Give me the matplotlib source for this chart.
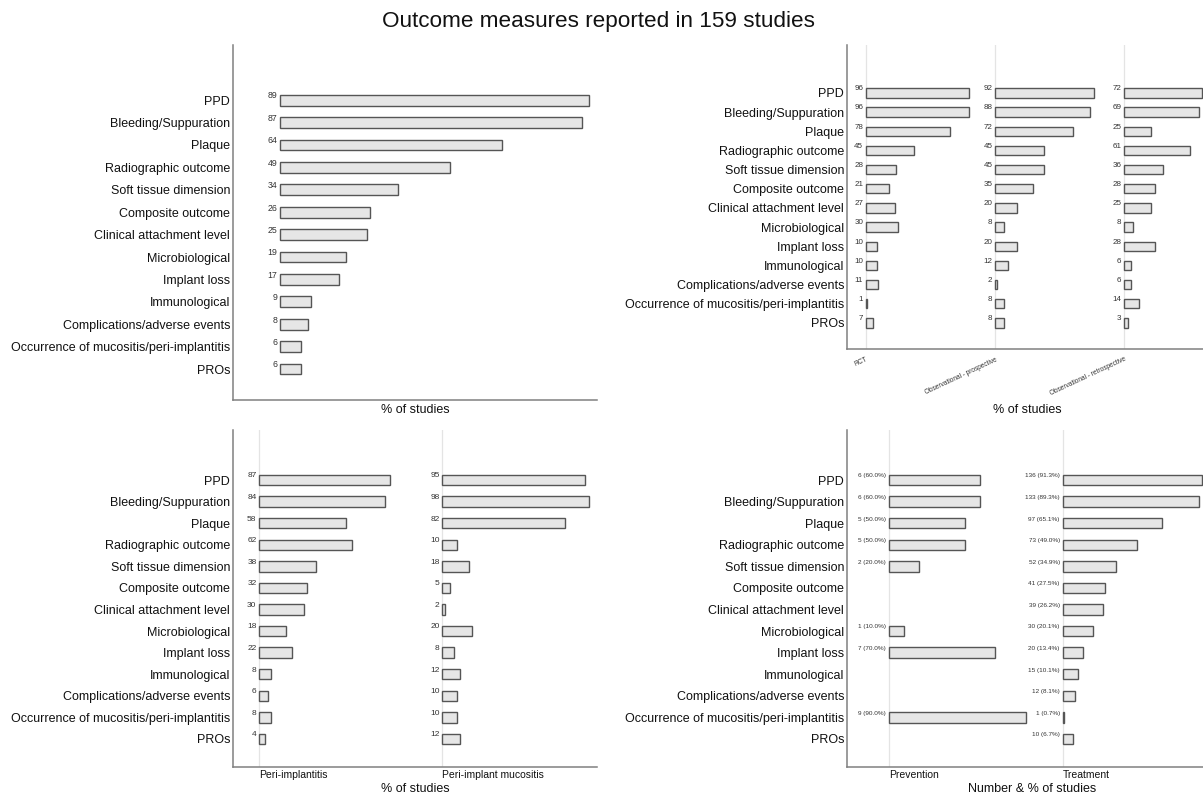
import matplotlib
matplotlib.use("Agg")
import matplotlib.pyplot as plt
import numpy as np

plt.rcParams['font.family'] = ['Liberation Sans', 'DejaVu Sans']

categories = ["PPD", "Bleeding/Suppuration", "Plaque", "Radiographic outcome",
              "Soft tissue dimension", "Composite outcome", "Clinical attachment level",
              "Microbiological", "Implant loss", "Immunological",
              "Complications/adverse events", "Occurrence of mucositis/peri-implantitis", "PROs"]

overall = [89, 87, 64, 49, 34, 26, 25, 19, 17, 9, 8, 6, 6]

design_groups = ["RCT", "Observational - prospective", "Observational - retrospective"]
rct = [96, 96, 78, 45, 28, 21, 27, 30, 10, 10, 11, 1, 7]
obs_prospective = [92, 88, 72, 45, 45, 35, 20, 8, 20, 12, 2, 8, 8]
obs_retrospective = [72, 69, 25, 61, 36, 28, 25, 8, 28, 6, 6, 14, 3]

disease_groups = ["Peri-implantitis", "Peri-implant mucositis"]
peri_implantitis = [87, 84, 58, 62, 38, 32, 30, 18, 22, 8, 6, 8, 4]
mucositis = [95, 98, 82, 10, 18, 5, 2, 20, 8, 12, 10, 10, 12]

aim_groups = ["Prevention", "Treatment"]
prevention_n = [6, 6, 5, 5, 2, None, None, 1, 7, None, None, 9, None]
prevention_pct = [60.0, 60.0, 50.0, 50.0, 20.0, None, None, 10.0, 70.0, None, None, 90.0, None]
treatment_n = [136, 133, 97, 73, 52, 41, 39, 30, 20, 15, 12, 1, 10]
treatment_pct = [91.3, 89.3, 65.1, 49.0, 34.9, 27.5, 26.2, 20.1, 13.4, 10.1, 8.1, 0.7, 6.7]

W, H = 1203, 796
fig = plt.figure(figsize=(W / 100, H / 100), dpi=100)


def make_ax(l, t, r, b):
    return fig.add_axes([l / W, 1 - b / H, (r - l) / W, (b - t) / H])


FACE = '#e6e6e6'
EDGE = '#555555'
SPINE = '#808080'
GRID = '#e4e4e4'
TXT = '#111111'


def style(ax, ylim):
    for s in ['top', 'right']:
        ax.spines[s].set_visible(False)
    for s in ['left', 'bottom']:
        ax.spines[s].set_color(SPINE)
        ax.spines[s].set_linewidth(1.1)
    ax.set_yticks(range(len(categories)))
    ax.set_yticklabels(categories, fontsize=9, color=TXT)
    ax.tick_params(axis='y', length=0, pad=2)
    ax.tick_params(axis='x', length=0)
    ax.set_ylim(*ylim)


def draw_group(ax, values, offset, labels, fs, grid=True):
    if grid:
        ax.axvline(offset, color=GRID, lw=0.9, zorder=0)
    for i, (v, lab) in enumerate(zip(values, labels)):
        if v is None:
            continue
        ax.barh(i, v, left=offset, height=0.48, color=FACE, edgecolor=EDGE,
                linewidth=1.0, zorder=2)
        ax.annotate(lab, (offset, i), xytext=(-2, 3), textcoords='offset points',
                    ha='right', va='center', fontsize=fs, color='#333333')


# Top-left: overall
ax1 = make_ax(233, 45, 597, 400)
style(ax1, (13.38, -2.46))
draw_group(ax1, overall, 0, [str(v) for v in overall], 6.3, grid=False)
ax1.set_xlim(-13.5, 91.4)
ax1.set_xticks([])

# Top-right: by design
ax2 = make_ax(847, 45, 1203, 349)
style(ax2, (13.36, -2.5))
off2 = [0, 120, 240]
for vals, o in zip([rct, obs_prospective, obs_retrospective], off2):
    draw_group(ax2, vals, o, [str(v) for v in vals], 5.8)
ax2.set_xlim(-17.6, 313)
ax2.set_xticks(off2)
ax2.set_xticklabels(design_groups, fontsize=4.7, rotation=25, ha='right', va='top',
                    rotation_mode='anchor', color='#333333')
ax2.tick_params(axis='x', pad=5)

# Bottom-left: by disease
ax3 = make_ax(233, 430, 597, 767)
style(ax3, (13.3, -2.32))
off3 = [0, 122]
for vals, o in zip([peri_implantitis, mucositis], off3):
    draw_group(ax3, vals, o, [str(v) for v in vals], 6.0)
ax3.set_xlim(-17.5, 225)
ax3.set_xticks(off3)
ax3.set_xticklabels(disease_groups, fontsize=7.5, ha='left', color=TXT)
ax3.tick_params(axis='x', pad=2)

# Bottom-right: by aim
ax4 = make_ax(847, 430, 1203, 767)
style(ax4, (13.3, -2.32))
off4 = [0, 114]
prev_labels = [None if n is None else f"{n} ({p:.1f}%)" for n, p in zip(prevention_n, prevention_pct)]
treat_labels = [f"{n} ({p:.1f}%)" for n, p in zip(treatment_n, treatment_pct)]
draw_group(ax4, prevention_pct, off4[0], prev_labels, 4.6)
draw_group(ax4, treatment_pct, off4[1], treat_labels, 4.6)
ax4.set_xlim(-27.3, 206)
ax4.set_xticks(off4)
ax4.set_xticklabels(aim_groups, fontsize=7.5, ha='left', color=TXT)
ax4.tick_params(axis='x', pad=2)

# Axis titles
fig.text(415 / W, 1 - 410 / H, "% of studies", ha='center', va='center', fontsize=9, color=TXT)
fig.text(1027 / W, 1 - 410 / H, "% of studies", ha='center', va='center', fontsize=9, color=TXT)
fig.text(415 / W, 1 - 789 / H, "% of studies", ha='center', va='center', fontsize=9, color=TXT)
fig.text(1032 / W, 1 - 789 / H, "Number & % of studies", ha='center', va='center',
         fontsize=9, color=TXT)

fig.text(599 / W, 1 - 21.5 / H, "Outcome measures reported in 159 studies",
         ha='center', va='center', fontsize=16.2, color=TXT)

fig.savefig("out.png", dpi=100, facecolor='white')
